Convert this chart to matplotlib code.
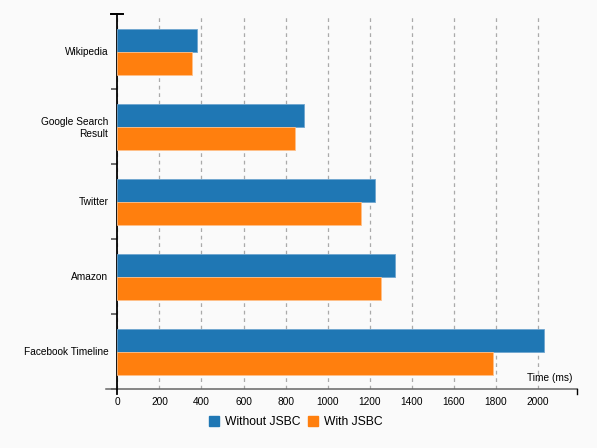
import matplotlib
matplotlib.use("Agg")
import matplotlib.pyplot as plt
import numpy as np
from matplotlib.patches import Patch

categories = ["Wikipedia", "Google Search\nResult", "Twitter", "Amazon", "Facebook Timeline"]
without_jsbc = [379, 887, 1225, 1318, 2030]
with_jsbc = [354, 843, 1158, 1253, 1787]
series_names = ["Without JSBC", "With JSBC"]
x_ticks = [0, 200, 400, 600, 800, 1000, 1200, 1400, 1600, 1800, 2000]
x_max = 2186

blue = "#1f77b4"
orange = "#ff7f0e"
bg = "#fafafa"

plt.rcParams['font.family'] = ['Liberation Sans', 'DejaVu Sans']

W, H = 597, 448
fig = plt.figure(figsize=(W / 100, H / 100), dpi=100, facecolor=bg)
ax = fig.add_axes([117.3 / W, (H - 388.5) / H, (577.3 - 117.3) / W, (388.5 - 14) / H])
ax.set_facecolor(bg)

y = np.arange(len(categories))
h = 0.307
ax.barh(y - 0.147, without_jsbc, height=h, color=blue, edgecolor="#6fa6d0", linewidth=0.6, zorder=3)
ax.barh(y + 0.16, with_jsbc, height=h, color=orange, edgecolor="#ffc08a", linewidth=0.6, zorder=3)

ax.set_xlim(0, x_max)
ax.set_ylim(len(categories) - 0.5, -0.5)

# x axis
ax.set_xticks(x_ticks)
ax.set_xticklabels([str(t) for t in x_ticks], fontsize=7.3)
ax.tick_params(axis="x", length=0, pad=6)
ax.xaxis.grid(True, color="#aaaaaa", linestyle=(0, (3, 3)), linewidth=0.9, zorder=0)

# y axis: ticks at band boundaries, labels at centers
ax.set_yticks(np.arange(len(categories) + 1) - 0.5)
ax.set_yticklabels([])
ax.set_yticks(y, minor=True)
ax.set_yticklabels(categories, minor=True, fontsize=7.3, ha="right")
ax.tick_params(axis="y", which="major", length=4.5, width=1.2, color="#555555", direction="out")
ax.tick_params(axis="y", which="minor", length=0, pad=6.5)

for s in ["top", "right"]:
    ax.spines[s].set_visible(False)
ax.spines["left"].set_color("black")
ax.spines["left"].set_linewidth(1.3)
ax.spines["bottom"].set_color("#666666")
ax.spines["bottom"].set_linewidth(1.1)
ax.spines["bottom"].set_bounds(-0.024 * x_max, x_max)

# outer ticks of x axis
ax.plot([0, 0], [0, -0.016], transform=ax.get_xaxis_transform(), color="black",
        linewidth=1.3, clip_on=False, zorder=5)
ax.plot([x_max, x_max], [0, -0.016], transform=ax.get_xaxis_transform(), color="black",
        linewidth=1.0, clip_on=False, zorder=5)
# top marker of y axis
ax.plot([-0.013 * x_max, 0.013 * x_max], [1, 1], transform=ax.get_xaxis_transform(),
        color="black", linewidth=1.4, clip_on=False, zorder=5)

ax.text(0.99, 0.015, "Time (ms)", transform=ax.transAxes, ha="right", va="bottom",
        fontsize=7.3)

handles = [Patch(facecolor=blue, edgecolor=blue), Patch(facecolor=orange, edgecolor=orange)]
fig.legend(handles, series_names, loc="center", bbox_to_anchor=(296 / W, (H - 422) / H),
           ncol=2, frameon=False, fontsize=8.7, handlelength=0.85, handleheight=0.85,
           handletextpad=0.5, columnspacing=0.6, borderaxespad=0)

fig.savefig("out.png", dpi=100, facecolor=bg)
